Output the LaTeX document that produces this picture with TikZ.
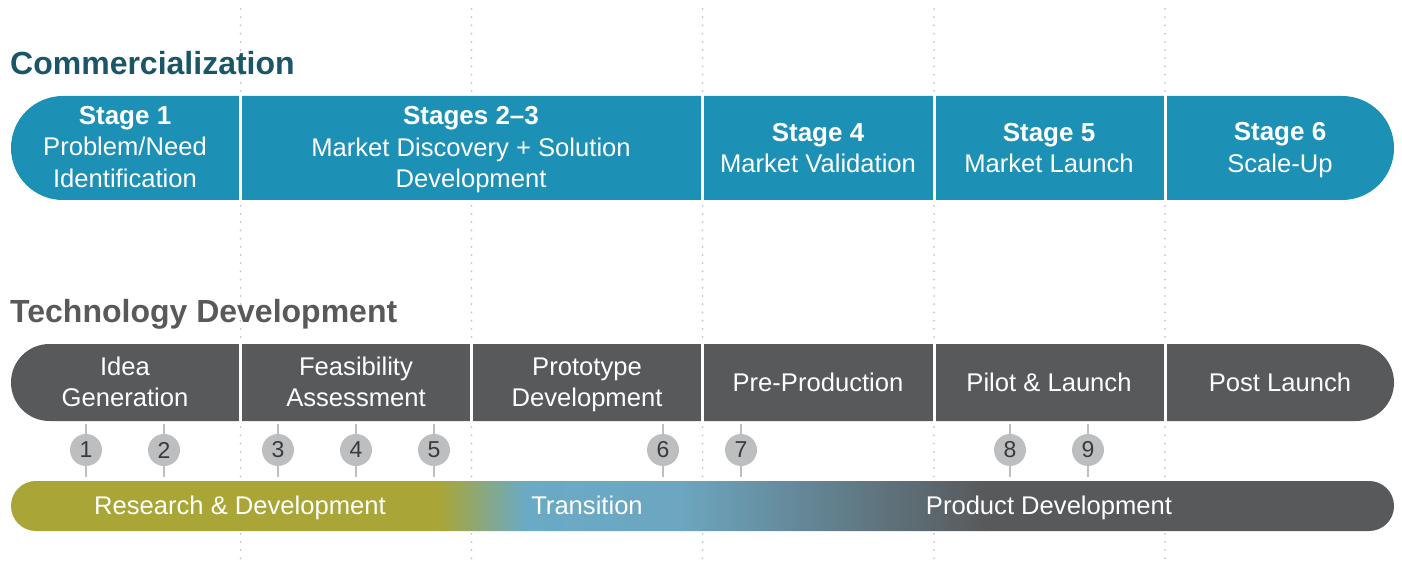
\documentclass[tikz,border=0pt]{standalone}
\usepackage{fontspec}
\setmainfont{Liberation Sans}
\definecolor{cteal}{HTML}{1C90B5}
\definecolor{ctitle}{HTML}{1A5668}
\definecolor{cgray}{HTML}{58595B}
\definecolor{ccirc}{HTML}{BCBEC0}
\definecolor{cnum}{HTML}{3A3A3A}
\definecolor{colive}{HTML}{A9A637}
\definecolor{cblue}{HTML}{6AAAC6}
\definecolor{cblueb}{HTML}{6CA6C0}
\definecolor{cdot}{HTML}{C4C4C4}
\newcommand{\stg}[1]{{\fontsize{26}{31.5}\selectfont\bfseries #1}}
\begin{document}
\begin{tikzpicture}[x=1pt,y=-1pt,
  lbl/.style={text=white, align=center, font=\fontsize{25.6}{31.5}\selectfont, inner sep=0pt},
  ttl/.style={anchor=base west, font=\fontsize{32}{36}\selectfont\bfseries, inner sep=0pt},
  numc/.style={circle, fill=ccirc, minimum size=32pt, inner sep=0pt, text=cnum, font=\fontsize{23}{23}\selectfont},
  dotline/.style={cdot, line width=2pt, line cap=round, dash pattern=on 0pt off 8.2pt},
  divider/.style={white, line width=3pt},
  tick/.style={ccirc, line width=1.5pt}]
\useasboundingbox (0,0) rectangle (1402,569);

% dotted guide lines
\foreach \x/\n in {240.5/a,471.5/b,702.5/c,934/d,1165/e}{
  \coordinate (g\n top) at (\x,9);
  \coordinate (g\n bot) at (\x,565);
  \draw[dotline] (g\n top) -- (g\n bot);
}

% titles
\node[ttl, text=ctitle] (t1) at (10,74.5) {Commercialization};
\node[ttl, text=cgray] (t2) at (10,322) {Technology Development};

% commercialization bar
\fill[cteal, rounded corners=51.9pt] (11,96) rectangle (1394,200);
\foreach \x in {240.5,702.5,934,1165}{\draw[divider] (\x,95) -- (\x,201);}
\node[lbl] (s1) at (125,147) {\stg{Stage 1}\\Problem/Need\\Identification};
\node[lbl] (s23) at (471,150) {\stg{Stages 2–3}\\Market Discovery + Solution\\Development};
\node[lbl] (s4) at (818,148) {\stg{Stage 4}\\Market Validation};
\node[lbl] (s5) at (1049,148) {\stg{Stage 5}\\Market Launch};
\node[lbl] (s6) at (1280,150) {\stg{Stage 6}\\Scale-Up};

% technology development bar
\fill[cgray, rounded corners=38.4pt] (11,344) rectangle (1394,421);
\foreach \x in {240.5,471.5,702.5,934,1165}{\draw[divider] (\x,343) -- (\x,422);}
\node[lbl] (p1) at (125,382) {Idea\\Generation};
\node[lbl] (p2) at (356,382) {Feasibility\\Assessment};
\node[lbl] (p3) at (587,385) {Prototype\\Development};
\node[lbl, anchor=base] (p4) at (818,391) {Pre-Production};
\node[lbl, anchor=base] (p5) at (1049,391) {Pilot \& Launch};
\node[lbl, anchor=base] (p6) at (1280,391) {Post Launch};

% gradient bar
\begin{scope}
  \clip[rounded corners=24.9pt] (11,481) rectangle (1394,531);
  \fill[colive] (10,480) rectangle (441,532);
  \shade[left color=colive, right color=cblue] (440,480) rectangle (526,532);
  \shade[left color=cblue, right color=cblueb] (525,480) rectangle (681,532);
  \shade[left color=cblueb, right color=cgray] (680,480) rectangle (986,532);
  \fill[cgray] (985,480) rectangle (1395,532);
\end{scope}
\node[lbl, anchor=base] (r1) at (240,514) {Research \& Development};
\node[lbl, anchor=base] (r2) at (587,514) {Transition};
\node[lbl, anchor=base] (r3) at (1049,514) {Product Development};

% milestones
\coordinate (gbarbot) at (0,424);
\coordinate (rbartop) at (0,477);
\foreach \x/\k in {86/1,164/2,278/3,356/4,434/5,663/6,741/7,1010/8,1088/9}{
  \coordinate (m\k) at (\x,450);
  \draw[tick] (m\k |- gbarbot) -- (m\k |- rbartop);
  \node[numc] (n\k) at (m\k) {\k};
}
\end{tikzpicture}
\end{document}
